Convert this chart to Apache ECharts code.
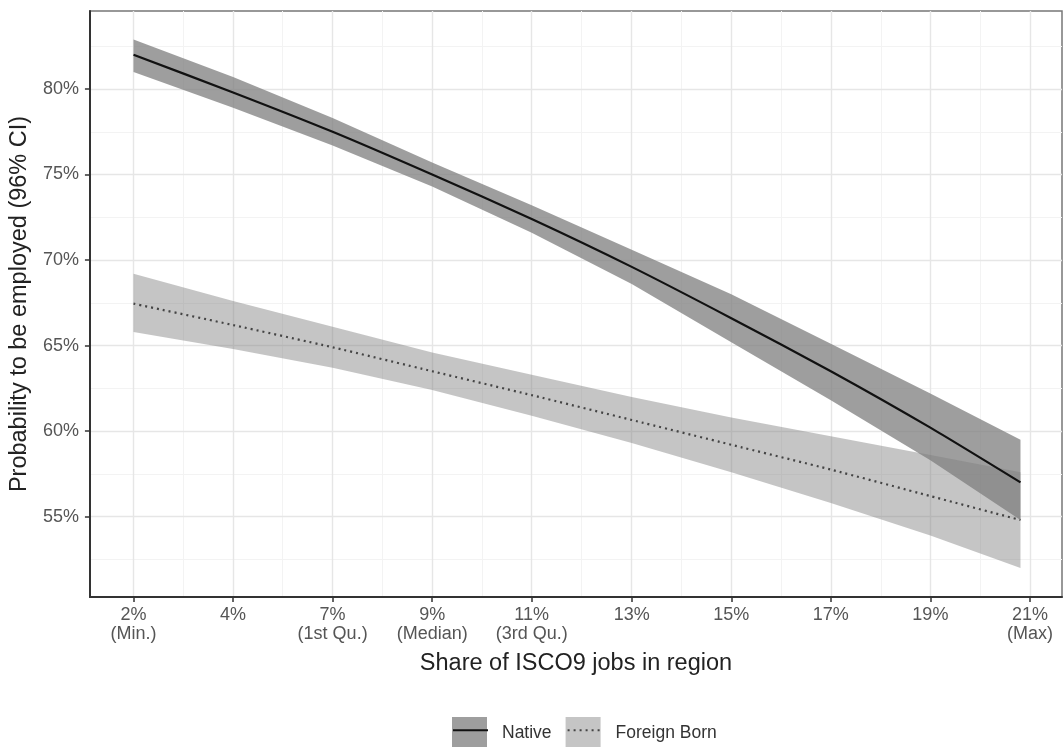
<!DOCTYPE html>
<html>
<head>
<meta charset="utf-8">
<script src="https://cdn.jsdelivr.net/npm/echarts@6/dist/echarts.min.js"></script>
<style>
html,body{margin:0;padding:0;background:#fff;}
#chart{width:1064px;height:747px;}
</style>
</head>
<body>
<div id="chart"></div>
<script>
// ---- data (share of ISCO9 jobs in region, %) ----
const shareX = [2.3, 4.41, 6.52, 8.63, 10.74, 12.86, 14.97, 17.08, 19.19, 21.1];

const nativeFit   = [82.0, 79.8, 77.5, 75.0, 72.4, 69.6, 66.6, 63.5, 60.2, 57.0];
const nativeLow   = [81.0, 78.9, 76.7, 74.3, 71.6, 68.6, 65.2, 61.8, 58.3, 54.8];
const nativeHigh  = [82.9, 80.7, 78.3, 75.7, 73.2, 70.6, 68.0, 65.1, 62.2, 59.5];

const foreignFit  = [67.45, 66.2, 64.9, 63.5, 62.1, 60.65, 59.2, 57.75, 56.2, 54.8];
const foreignLow  = [65.8, 64.8, 63.7, 62.4, 60.9, 59.3, 57.6, 55.8, 53.9, 52.0];
const foreignHigh = [69.2, 67.6, 66.1, 64.6, 63.3, 62.0, 60.8, 59.7, 58.6, 57.6];

const xTickValues = [2.3, 4.41, 6.52, 8.63, 10.74, 12.86, 14.97, 17.08, 19.19, 21.3];
const xTickLabels = ['2%\n(Min.)', '4%', '7%\n(1st Qu.)', '9%\n(Median)', '11%\n(3rd Qu.)',
                     '13%', '15%', '17%', '19%', '21%\n(Max)'];
const xMinorValues = [3.355, 5.465, 7.575, 9.685, 11.8, 13.915, 16.025, 18.135, 20.245];
const yTickValues = [55, 60, 65, 70, 75, 80];
const yMinorValues = [52.5, 57.5, 62.5, 67.5, 72.5, 77.5, 82.5];

const seriesNames = ['Native', 'Foreign Born'];

// ---- helpers ----
const pts = (xs, ys) => xs.map((x, i) => [x, ys[i]]);
const bandRows = (xs, lo, hi) => xs.map((x, i) => [x, lo[i], hi[i]]);

const FONT = "'Liberation Sans', Arial, Helvetica, sans-serif";
const nativeFill = 'rgba(127,127,127,0.76)';
const foreignFill = 'rgba(127,127,127,0.45)';

const majorStyle = {color: '#e6e6e6', width: 1.4, type: 'solid'};
const minorStyle = {color: '#f3f3f3', width: 1, type: 'solid'};
const gridLines = [
  ...xMinorValues.map(v => ({xAxis: v, lineStyle: minorStyle})),
  ...yMinorValues.map(v => ({yAxis: v, lineStyle: minorStyle})),
  ...xTickValues.map(v => ({xAxis: v, lineStyle: majorStyle})),
  ...yTickValues.map(v => ({yAxis: v, lineStyle: majorStyle}))
];

// one polygon for the whole confidence band, placed with the chart's own scales
function bandSeries(name, rows, fill, z) {
  return {
    name: name, type: 'custom', z: z, silent: true,
    itemStyle: {color: fill},
    data: rows,
    encode: {x: 0, y: [1, 2]},
    renderItem: function (params, api) {
      if (params.dataIndex !== 0) return null;
      const upper = rows.map(r => api.coord([r[0], r[2]]));
      const lower = rows.map(r => api.coord([r[0], r[1]])).reverse();
      return {
        type: 'polygon',
        shape: {points: upper.concat(lower)},
        style: {fill: fill, stroke: null},
        silent: true
      };
    }
  };
}

const legendCommon = {
  left: 447, top: 712, orient: 'horizontal',
  itemWidth: 35, itemHeight: 33, itemGap: 14,
  selectedMode: false,
  textStyle: {fontFamily: FONT, fontSize: 17.5, color: '#333', padding: [0, 0, 0, 10]}
};

const option = {
  animation: false,
  backgroundColor: '#ffffff',
  grid: {left: 88, right: 2, top: 11, bottom: 150, show: true,
         borderColor: '#777', borderWidth: 1.5, backgroundColor: 'transparent'},
  legend: [
    Object.assign({}, legendCommon, {
      data: seriesNames, icon: 'rect', z: 4,
      itemStyle: {borderWidth: 0}
    }),
    Object.assign({}, legendCommon, {
      data: seriesNames.map(n => n + ' fit'), z: 5,
      formatter: n => n.replace(' fit', ''),
      textStyle: Object.assign({}, legendCommon.textStyle, {color: 'rgba(0,0,0,0)'}),
      itemStyle: {opacity: 0}
    })
  ],
  xAxis: {
    type: 'value', min: 1.376, max: 21.98,
    name: 'Share of ISCO9 jobs in region', nameLocation: 'middle', nameGap: 55,
    nameTextStyle: {fontFamily: FONT, fontSize: 23.5, color: '#222'},
    axisLine: {show: true, lineStyle: {color: '#333', width: 2}},
    axisTick: {show: true, length: 5, lineStyle: {color: '#333', width: 1.5}, customValues: xTickValues},
    axisLabel: {
      customValues: xTickValues, margin: 9,
      fontFamily: FONT, fontSize: 18, lineHeight: 19, color: '#555', align: 'center',
      formatter: v => {
        const i = xTickValues.findIndex(t => Math.abs(t - v) < 1e-6);
        return i >= 0 ? xTickLabels[i] : '';
      }
    },
    splitLine: {show: false}
  },
  yAxis: {
    type: 'value', min: 50.3, max: 84.56,
    name: 'Probability to be employed (96% CI)', nameLocation: 'middle', nameGap: 56,
    nameTextStyle: {fontFamily: FONT, fontSize: 23.5, color: '#222'},
    axisLine: {show: true, lineStyle: {color: '#333', width: 2}},
    axisTick: {show: true, length: 5, lineStyle: {color: '#333', width: 1.5}, customValues: yTickValues},
    axisLabel: {
      customValues: yTickValues, margin: 11,
      fontFamily: FONT, fontSize: 18, color: '#555',
      formatter: v => v + '%'
    },
    splitLine: {show: false}
  },
  series: [
    {
      name: 'grid', type: 'line', data: [], z: 0, silent: true,
      markLine: {z: 0, silent: true, symbol: ['none', 'none'], label: {show: false},
                 animation: false, data: gridLines}
    },
    bandSeries('Native', bandRows(shareX, nativeLow, nativeHigh), nativeFill, 2),
    bandSeries('Foreign Born', bandRows(shareX, foreignLow, foreignHigh), foreignFill, 3),
    {
      name: 'Native fit', type: 'line', z: 4,
      data: pts(shareX, nativeFit), showSymbol: false, symbol: 'none', smooth: 0.2,
      lineStyle: {color: '#111', width: 2.2, type: 'solid'},
      itemStyle: {color: '#111'}
    },
    {
      name: 'Foreign Born fit', type: 'line', z: 4,
      data: pts(shareX, foreignFit), showSymbol: false, symbol: 'none', smooth: 0.2,
      lineStyle: {color: '#444', width: 2.2, type: [2, 4]},
      itemStyle: {color: '#444'}
    }
  ]
};

const chart = echarts.init(document.getElementById('chart'), null, {renderer: 'canvas'});
chart.setOption(option);
</script>
</body>
</html>
